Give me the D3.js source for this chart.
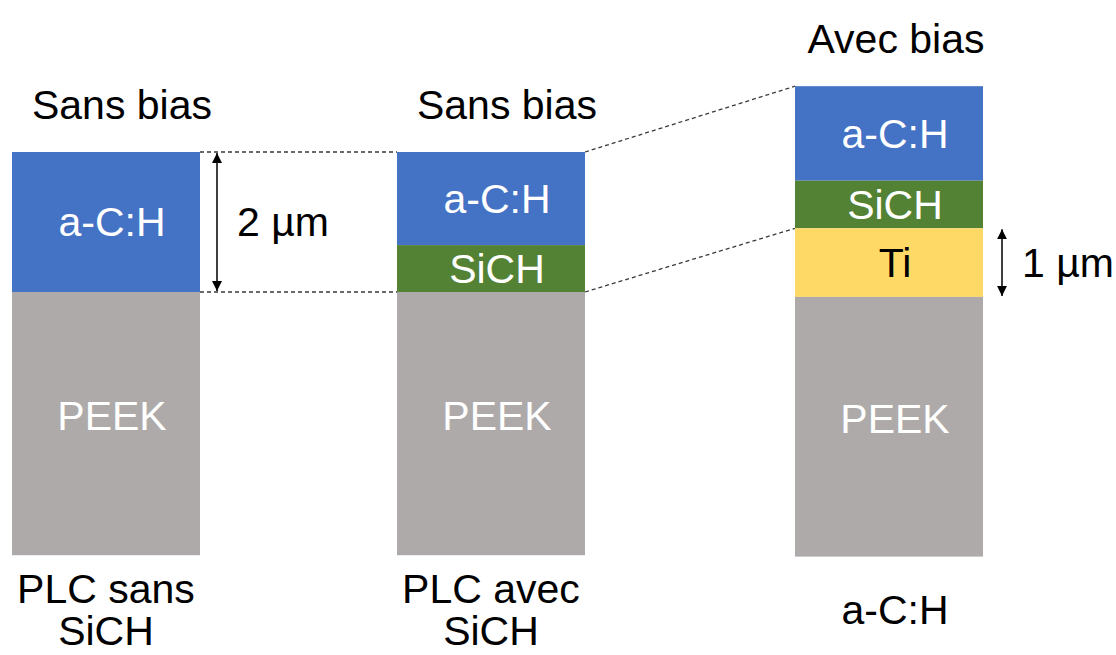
<!DOCTYPE html>
<html>
<head>
<meta charset="utf-8">
<script src="https://cdn.jsdelivr.net/npm/d3@7"></script>
<style>
  body { margin: 0; background: #fff; }
  svg { display: block; font-family: Arial, "Liberation Sans", sans-serif; }
</style>
</head>
<body>
<svg></svg>
<script>
// stacks, top to bottom, thickness in µm (substrate drawn schematically)
let columns = ["sans", "avec", "bias"]
let conditions = ["Sans bias", "Sans bias", "Avec bias"]
let bottomLabels = [["PLC sans", "SiCH"], ["PLC avec", "SiCH"], ["a-C:H"]]
let layerNames = [["a-C:H", "PEEK"], ["a-C:H", "SiCH", "PEEK"], ["a-C:H", "SiCH", "Ti", "PEEK"]]
let thickness = [[2, 3.76], [1.33, 0.67, 3.76], [1.35, 0.68, 0.98, 3.71]]
let stackStart = [0, 0, -0.94]
let dimLabels = ["2 µm", "1 µm"]

let width = 1116
let height = 655
let colWidth = 188
let fontSize = 41

let colors = {"a-C:H": "#4472c4", "SiCH": "#548235", "Ti": "#ffd966", "PEEK": "#aeaaaa"}
let textColors = {"a-C:H": "#fff", "SiCH": "#fff", "Ti": "#000", "PEEK": "#fff"}

let svg = d3.select("svg").attr("width", width).attr("height", height)

let xScale = d3.scaleOrdinal().domain(columns).range([12, 397, 795])
let yScale = d3.scaleLinear().domain([0, 1]).range([152, 222])

// flatten stacks into layer records
let layers = []
columns.forEach((c, i) => {
  let y = stackStart[i]
  layerNames[i].forEach((name, j) => {
    layers.push({col: c, name: name, y0: y, y1: y + thickness[i][j]})
    y += thickness[i][j]
  })
})
let layerOf = (c, name) => layers.find(l => l.col == c && l.name == name)

// arrowhead marker
let defs = svg.append("defs")
defs.append("marker")
    .attr("id", "head")
    .attr("viewBox", "0 0 10 10")
    .attr("refX", 10).attr("refY", 5)
    .attr("markerWidth", 10).attr("markerHeight", 11)
    .attr("markerUnits", "userSpaceOnUse")
    .attr("orient", "auto-start-reverse")
  .append("path")
    .attr("d", "M0,0 L10,5 L0,10 Z")
    .attr("fill", "#000")

// dashed connectors
let links = [
  {a: "sans", b: "avec", ya: layerOf("sans", "a-C:H").y0, yb: layerOf("avec", "a-C:H").y0},
  {a: "sans", b: "avec", ya: layerOf("sans", "PEEK").y0, yb: layerOf("avec", "PEEK").y0},
  {a: "avec", b: "bias", ya: layerOf("avec", "a-C:H").y0, yb: layerOf("bias", "a-C:H").y0},
  {a: "avec", b: "bias", ya: layerOf("avec", "PEEK").y0, yb: layerOf("bias", "Ti").y0}
]
svg.selectAll(".link")
   .data(links)
   .enter()
   .append("line")
   .attr("class", "link")
   .attr("x1", d => xScale(d.a) + colWidth)
   .attr("x2", d => xScale(d.b))
   .attr("y1", d => yScale(d.ya))
   .attr("y2", d => yScale(d.yb))
   .attr("stroke", "#3a3a3a")
   .attr("stroke-width", 1.3)
   .attr("stroke-dasharray", "4,3")

// layer rects
svg.selectAll(".layer")
   .data(layers)
   .enter()
   .append("rect")
   .attr("class", "layer")
   .attr("x", d => xScale(d.col))
   .attr("y", d => yScale(d.y0))
   .attr("width", colWidth)
   .attr("height", d => yScale(d.y1) - yScale(d.y0))
   .attr("fill", d => colors[d.name])

// layer labels (text boxes sit a little right of centre)
svg.selectAll(".layer-label")
   .data(layers)
   .enter()
   .append("text")
   .attr("class", "layer-label")
   .attr("x", d => xScale(d.col) + colWidth / 2 + 6)
   .attr("y", d => (yScale(d.y0) + yScale(d.y1)) / 2 - (d.name == "PEEK" ? 8 : 0))
   .attr("dy", "0.35em")
   .attr("text-anchor", "middle")
   .attr("font-size", fontSize)
   .attr("fill", d => textColors[d.name])
   .text(d => d.name)

// condition titles above each stack
svg.selectAll(".cond")
   .data(columns)
   .enter()
   .append("text")
   .attr("class", "cond")
   .attr("x", (c, i) => xScale(c) + colWidth / 2 + (i == 2 ? 7 : 16))
   .attr("y", (c, i) => yScale(stackStart[i]) - 33)
   .attr("text-anchor", "middle")
   .attr("font-size", fontSize)
   .text((c, i) => conditions[i])

// labels below each stack
columns.forEach((c, i) => {
  let peek = layerOf(c, "PEEK")
  let t = svg.append("text")
             .attr("text-anchor", "middle")
             .attr("font-size", fontSize)
             .attr("y", yScale(peek.y1) + (bottomLabels[i].length == 1 ? 67 : 48))
  bottomLabels[i].forEach((line, k) => {
    t.append("tspan")
     .attr("x", xScale(c) + colWidth / 2 + (i == 2 ? 6 : 0))
     .attr("dy", k == 0 ? 0 : 42)
     .text(line)
  })
})

// thickness arrows
let dims = [
  {col: "sans", y0: layerOf("sans", "a-C:H").y0, y1: layerOf("sans", "a-C:H").y1, off: 17, label: dimLabels[0]},
  {col: "bias", y0: layerOf("bias", "Ti").y0, y1: layerOf("bias", "Ti").y1, off: 19, label: dimLabels[1]}
]
svg.selectAll(".dim")
   .data(dims)
   .enter()
   .append("line")
   .attr("class", "dim")
   .attr("x1", d => xScale(d.col) + colWidth + d.off)
   .attr("x2", d => xScale(d.col) + colWidth + d.off)
   .attr("y1", d => yScale(d.y0) + 1)
   .attr("y2", d => yScale(d.y1) - 1)
   .attr("stroke", "#000")
   .attr("stroke-width", 1.5)
   .attr("marker-start", "url(#head)")
   .attr("marker-end", "url(#head)")

svg.selectAll(".dim-label")
   .data(dims)
   .enter()
   .append("text")
   .attr("class", "dim-label")
   .attr("x", d => xScale(d.col) + colWidth + d.off + 20)
   .attr("y", d => (yScale(d.y0) + yScale(d.y1)) / 2)
   .attr("dy", "0.35em")
   .attr("font-size", fontSize)
   .text(d => d.label)
</script>
</body>
</html>
